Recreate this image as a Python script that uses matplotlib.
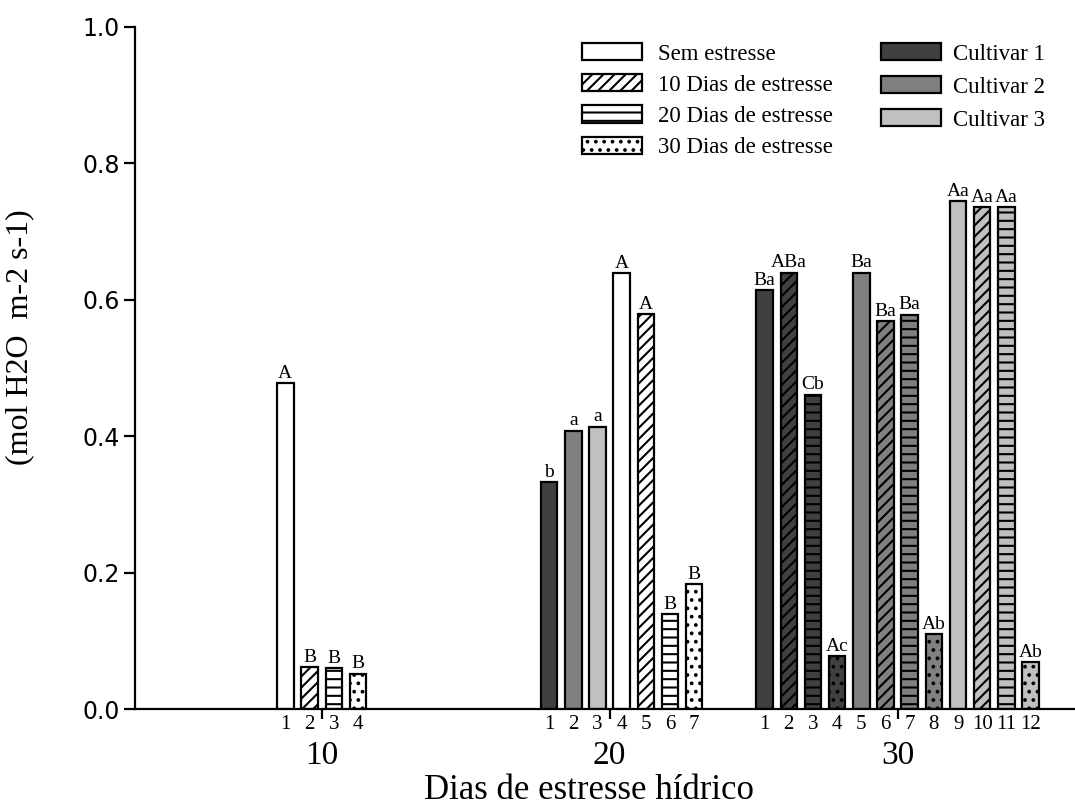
import matplotlib
matplotlib.use("Agg")
import matplotlib.pyplot as plt
from matplotlib.patches import Patch
from matplotlib.ticker import FixedLocator, FixedFormatter

# ---------------- data ----------------
group_days = [10, 20, 30]
group_labels = ["10", "20", "30"]

treatments = ["Sem estresse", "10 Dias de estresse", "20 Dias de estresse", "30 Dias de estresse"]
cultivars = ["Cultivar 1", "Cultivar 2", "Cultivar 3"]

g10_values = [0.478, 0.061, 0.060, 0.052]
g10_letters = ["A", "B", "B", "B"]
g10_treatment = [0, 1, 2, 3]
g10_cultivar = [None, None, None, None]

g20_values = [0.333, 0.408, 0.414, 0.639, 0.579, 0.139, 0.183]
g20_letters = ["b", "a", "a", "A", "A", "B", "B"]
g20_treatment = [0, 0, 0, 0, 1, 2, 3]
g20_cultivar = [0, 1, 2, None, None, None, None]

g30_values = [0.614, 0.640, 0.461, 0.077, 0.640, 0.569, 0.578, 0.110, 0.745, 0.736, 0.736, 0.069]
g30_letters = ["Ba", "ABa", "Cb", "Ac", "Ba", "Ba", "Ba", "Ab", "Aa", "Aa", "Aa", "Ab"]
g30_treatment = [0, 1, 2, 3, 0, 1, 2, 3, 0, 1, 2, 3]
g30_cultivar = [0, 0, 0, 0, 1, 1, 1, 1, 2, 2, 2, 2]

# ---------------- styles ----------------
treatment_hatch = [None, "///", "--", ".."]
cultivar_colors = ["#404040", "#808080", "#c0c0c0"]
tick_after = [2, 3, 6]   # the group tick sits after this many bars
pitch = 0.84
bar_width = 0.57

serif = ["Liberation Serif", "DejaVu Serif"]
sans = ["DejaVu Sans"]
plt.rcParams["hatch.linewidth"] = 1.5

fig = plt.figure(figsize=(10.75, 8.05), dpi=100)
ax = fig.add_axes([135 / 1075, 1 - 709 / 805, 940 / 1075, 682 / 805])

groups = [
    (g10_values, g10_letters, g10_treatment, g10_cultivar),
    (g20_values, g20_letters, g20_treatment, g20_cultivar),
    (g30_values, g30_letters, g30_treatment, g30_cultivar),
]

minor_pos, minor_lab = [], []
for gi, (vals, lets, trt, cul) in enumerate(groups):
    center = group_days[gi]
    for i, (v, l, t, c) in enumerate(zip(vals, lets, trt, cul)):
        x = center + (i - tick_after[gi] + 0.5) * pitch
        fc = "white" if c is None else cultivar_colors[c]
        ax.bar(x, v, width=bar_width, facecolor=fc, edgecolor="black",
               linewidth=1.6, hatch=treatment_hatch[t], zorder=2)
        ax.annotate(l, (x, v), xytext=(0, 1), textcoords="offset points",
                    ha="center", va="bottom", fontsize=14, family=serif)
        minor_pos.append(x)
        minor_lab.append(str(i + 1))

ax.set_xlim(3.52, 36.16)
ax.set_ylim(0, 1.0)

for s in ["top", "right"]:
    ax.spines[s].set_visible(False)
for s in ["left", "bottom"]:
    ax.spines[s].set_linewidth(1.6)

ax.set_yticks([0.0, 0.2, 0.4, 0.6, 0.8, 1.0])
ax.set_yticklabels(["0.0", "0.2", "0.4", "0.6", "0.8", "1.0"], family=sans, fontsize=17)
ax.tick_params(axis="y", length=8, width=1.6, pad=3)

ax.xaxis.set_major_locator(FixedLocator(group_days))
ax.xaxis.set_major_formatter(FixedFormatter(group_labels))
ax.xaxis.set_minor_locator(FixedLocator(minor_pos))
ax.xaxis.set_minor_formatter(FixedFormatter(minor_lab))
ax.tick_params(axis="x", which="major", length=7, width=1.6, pad=16, labelsize=24)
ax.tick_params(axis="x", which="minor", length=0, pad=4, labelsize=15)
for lab in ax.get_xticklabels(which="both"):
    lab.set_family(serif)

fig.text(589 / 1075, 1 - 799 / 805, "Dias de estresse hídrico", ha="center", va="baseline",
         fontsize=25, family=serif)
fig.text(20 / 1075, 1 - 337 / 805, "(mol H2O  m-2 s-1)", ha="center", va="center",
         rotation=90, fontsize=23, family=serif)

# legends
h1 = [Patch(facecolor="white", edgecolor="black", linewidth=1.6, hatch=h) for h in treatment_hatch]
h2 = [Patch(facecolor=c, edgecolor="black", linewidth=1.6) for c in cultivar_colors]
leg1 = fig.legend(h1, treatments, loc="upper left", bbox_to_anchor=(582 / 1075, 1 - 43 / 805),
                  frameon=False, borderpad=0, borderaxespad=0, handlelength=2.6, handleheight=0.78,
                  handletextpad=0.72, labelspacing=0.42, prop={"family": serif, "size": 16.5})
leg2 = fig.legend(h2, cultivars, loc="upper left", bbox_to_anchor=(881 / 1075, 1 - 43 / 805),
                  frameon=False, borderpad=0, borderaxespad=0, handlelength=2.6, handleheight=0.78,
                  handletextpad=0.55, labelspacing=0.5, prop={"family": serif, "size": 16.5})

fig.savefig("out.png", dpi=100)
